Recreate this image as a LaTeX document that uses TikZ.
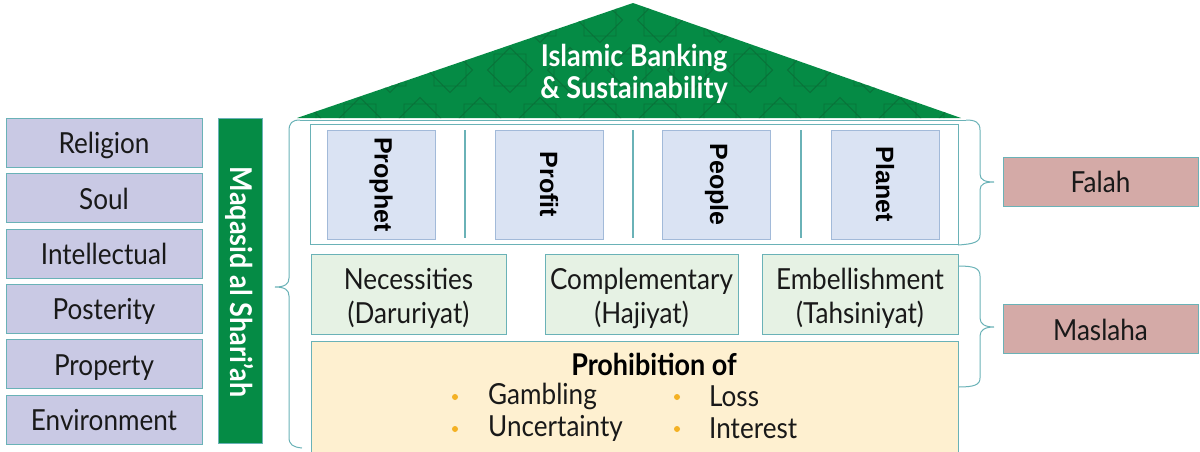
\documentclass[tikz,border=0pt]{standalone}
\usepackage{fontspec}
\setmainfont{Lato}[FakeStretch=0.9]
\newfontfamily\pillarfont{Liberation Sans}
\usetikzlibrary{calc}
\definecolor{roofgreen}{HTML}{058B45}
\definecolor{patgreen}{HTML}{0A6E37}
\definecolor{tealline}{HTML}{6AB2B7}
\definecolor{lav}{HTML}{C9C9E4}
\definecolor{pilblue}{HTML}{DAE3F3}
\definecolor{pilline}{HTML}{A2BAD9}
\definecolor{midgreen}{HTML}{E6F2E4}
\definecolor{cream}{HTML}{FEF0D0}
\definecolor{pinkbox}{HTML}{D4AAA7}
\definecolor{bulletor}{HTML}{F4B123}
\tikzset{
  basebox/.style={draw=tealline, line width=0.9pt, inner sep=0pt, align=center, text=black!90},
  leftbox/.style={basebox, fill=lav, minimum width=196pt, minimum height=49pt, text height=22pt, text depth=0pt, font=\fontsize{29}{32}\selectfont},
  rightbox/.style={basebox, fill=pinkbox, minimum width=195pt, minimum height=49pt, text height=22pt, text depth=0pt, font=\fontsize{29}{32}\selectfont},
  pillar/.style={draw=pilline, line width=0.8pt, fill=pilblue, minimum width=108pt, minimum height=109pt, inner sep=0pt},
  pillartext/.style={rotate=-90, text=black, font=\pillarfont\bfseries\fontsize{25}{28}\selectfont},
  midbox/.style={basebox, fill=midgreen, minimum height=80pt},
  midtext/.style={align=center, text=black!90, font=\fontsize{29}{34}\selectfont, yshift=-4pt},
  brace/.style={draw=tealline, line width=1pt},
  divider/.style={draw=tealline, line width=1.6pt},
  item/.style={anchor=west, inner sep=0pt, font=\fontsize{29}{32}\selectfont, text=black!90},
  bul/.style={circle, fill=bulletor, inner sep=0pt, minimum size=6pt}
}
\begin{document}
\begin{tikzpicture}[x=1pt,y=-1pt]
\useasboundingbox (0,0) rectangle (1200,451);
% roof
\path[fill=roofgreen] (297,118) -- (633,3) -- (961,118) -- cycle;
\begin{scope}
\clip (297,118) -- (633,3) -- (961,118) -- cycle;
\foreach \xx in {300,360,...,1000}{
  \foreach \yy/\off in {20/0,70/30,120/0}{
    \draw[patgreen, line width=0.9pt, opacity=0.85, shift={(\xx+\off,\yy)}]
      (-16,-16) rectangle (16,16)
      (0,-22.6) -- (22.6,0) -- (0,22.6) -- (-22.6,0) -- cycle;
  }
}
\end{scope}
\node[text=white, font=\bfseries\fontsize{30}{32}\selectfont, align=center] (title) at (634,74) {Islamic Banking\\\& Sustainability};

% left boxes
\node[leftbox] (rel) at (104,142.5) {Religion};
\node[leftbox] (soul) at (104,198) {Soul};
\node[leftbox] (int) at (104,253.5) {Intellectual};
\node[leftbox] (pos) at (104,308.5) {Posterity};
\node[leftbox] (pro) at (104,364) {Property};
\node[leftbox] (env) at (104,419.5) {Environment};

% maqasid bar
\node[draw=tealline, line width=0.8pt, fill=roofgreen, minimum width=44pt, minimum height=325pt, inner sep=0pt] (bar) at (240,280.5) {};
\node[rotate=-90, text=white, font=\bfseries\fontsize{30}{32}\selectfont] (barlabel) at (240,282) {Maqasid al Shari’ah};

% left brace and top line
\draw[brace] (300,120) .. controls (292,120) and (289,123) .. (289,131) -- (289,278)
  .. controls (289,284) and (285,287) .. (275,287)
  .. controls (285,287) and (289,290) .. (289,296) -- (289,437)
  .. controls (289,445) and (293,447) .. (302,448);
\draw[brace] (300,120) -- (966,120);
% Falah brace
\draw[brace] (966,120) .. controls (975,120) and (980,122) .. (980,130) -- (980,174)
  .. controls (980,180) and (985,182) .. (994,182)
  .. controls (985,182) and (980,184) .. (980,190) -- (980,235)
  .. controls (980,242) and (974,244) .. (958,245);
% Maslaha brace
\draw[brace] (958,266) .. controls (974,266) and (980,268) .. (980,276) -- (980,318)
  .. controls (980,324) and (985,327) .. (994,327)
  .. controls (985,327) and (980,330) .. (980,336) -- (980,378)
  .. controls (980,385) and (974,387) .. (958,387);

% pillars frame
\node[draw=tealline, line width=0.9pt, fill=white, minimum width=648pt, minimum height=120pt, inner sep=0pt] (frame) at (634,184) {};
\node[pillar] (p1) at (381,184.5) {};
\node[pillar] (p2) at (549,184.5) {};
\node[pillar] (p3) at (716.5,184.5) {};
\node[pillar] (p4) at (885,184.5) {};
\node[pillartext] (t1) at (p1) {Prophet};
\node[pillartext] (t2) at (p2) {Profit};
\node[pillartext] (t3) at (p3) {People};
\node[pillartext] (t4) at (p4) {Planet};
\coordinate (d1t) at (465,130); \coordinate (d1b) at (465,238);
\coordinate (d2t) at (633,130); \coordinate (d2b) at (633,238);
\coordinate (d3t) at (801,130); \coordinate (d3b) at (801,238);
\draw[divider] (d1t) -- (d1b);
\draw[divider] (d2t) -- (d2b);
\draw[divider] (d3t) -- (d3b);

% middle row
\node[midbox, minimum width=195pt] (nec) at (408.5,294) {};
\node[midbox, minimum width=193pt] (comp) at (641.5,294) {};
\node[midbox, minimum width=196pt] (emb) at (860,294) {};
\node[midtext] (nect) at (nec) {Necessities\\(Daruriyat)};
\node[midtext] (compt) at (comp) {Complementary\\(Hajiyat)};
\node[midtext] (embt) at (emb) {Embellishment\\(Tahsiniyat)};

% prohibition
\node[basebox, fill=cream, minimum width=647pt, minimum height=114pt] (proh) at (634.5,398) {};
\node[font=\bfseries\fontsize{30}{32}\selectfont, text=black] (prohtitle) at (654,364) {Prohibition of};
\node[bul] (b1) at (455,397) {};
\node[bul] (b2) at (455,429) {};
\node[bul] (b3) at (677,397) {};
\node[bul] (b4) at (677,429) {};
\node[item] (gam) at (488,396) {Gambling};
\node[item] (unc) at (488,428) {Uncertainty};
\node[item] (loss) at (709,396) {Loss};
\node[item] (intr) at (709,428) {Interest};

% right boxes
\node[rightbox] (falah) at (1100.5,181.5) {Falah};
\node[rightbox] (maslaha) at (1100.5,329) {Maslaha};
\end{tikzpicture}
\end{document}
